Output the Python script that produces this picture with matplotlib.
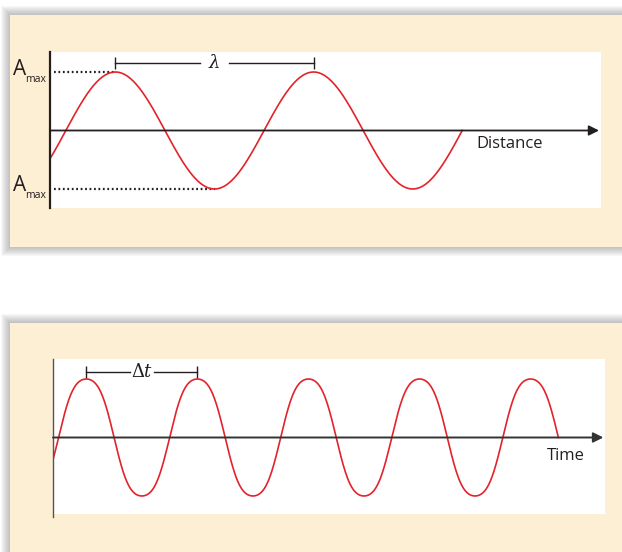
import numpy as np
import matplotlib
matplotlib.use("Agg")
import matplotlib.pyplot as plt
from matplotlib.patches import Rectangle

plt.rcParams['font.family'] = ['Open Sans', 'DejaVu Sans']
plt.rcParams['mathtext.fontset'] = 'dejavuserif'

# --- data -------------------------------------------------------------
# top wave: x measured in wavelengths (lambda)
dist_xlim = (0.0, 2.78)
dist_ylim = (-1.325, 1.342)
dist_first_peak = 0.33
dist_end = 2.08
dist_amp = 1.0
dist_arrow_tip = 2.77

# bottom wave: x measured in periods (delta t)
time_xlim = (0.0, 4.97)
time_ylim = (-1.308, 1.342)
time_first_peak = 0.30
time_end = 4.55
time_amp = 1.0
time_third_harmonic = 0.06   # small 3rd harmonic: rounder tops, steeper sides
time_arrow_tip = 4.955

RED = '#e2232b'
BEIGE = '#fdefd3'
INK = '#231f20'

W, H = 622, 552
fig = plt.figure(figsize=(W / 100, H / 100), dpi=100)
fig.patch.set_facecolor('white')


def px_box(x0, y0, x1, y1):
    return [x0 / W, 1 - y1 / H, (x1 - x0) / W, (y1 - y0) / H]


def panel(x0, y0, x1, y1):
    # soft grey shadow, then the beige card
    for k in range(9, 0, -1):
        b = px_box(x0 - k, y0 - k, x1 + k, y1 + k)
        fig.add_artist(Rectangle((b[0], b[1]), b[2], b[3], transform=fig.transFigure,
                                 facecolor='#6b6b70', alpha=0.05, lw=0, zorder=-3))
    b = px_box(x0, y0, x1, y1)
    fig.add_artist(Rectangle((b[0], b[1]), b[2], b[3], transform=fig.transFigure,
                             facecolor=BEIGE, lw=0, zorder=-2))


panel(10, 15, 640, 247)
panel(10, 323, 640, 570)

# --- top: wave in space ----------------------------------------------
ax1 = fig.add_axes(px_box(50, 52, 601, 208))
ax1.set_xlim(*dist_xlim)
ax1.set_ylim(*dist_ylim)
ax1.axis('off')
ax1.add_patch(Rectangle((0, 0), 1, 1, transform=ax1.transAxes, facecolor='white', lw=0, zorder=0))

x = np.linspace(0, dist_end, 600)
ax1.plot(x, dist_amp * np.cos(2 * np.pi * (x - dist_first_peak)), color=RED, lw=1.2, zorder=3)
ax1.plot([0, 0], dist_ylim, color=INK, lw=1.6, zorder=4, clip_on=False)
ax1.annotate('', xy=(dist_arrow_tip, 0), xytext=(0, 0),
             arrowprops=dict(arrowstyle='-|>', color=INK, lw=1.3, mutation_scale=15,
                             shrinkA=0, shrinkB=0), zorder=4)

trough = dist_first_peak + 0.5
ax1.plot([0.02, dist_first_peak], [dist_amp, dist_amp], color=INK, lw=1.6,
         ls=(0, (0.8, 1.2)), zorder=2)
ax1.plot([0.02, trough], [-dist_amp, -dist_amp], color=INK, lw=1.6,
         ls=(0, (0.8, 1.2)), zorder=2)
for yv in (dist_amp, -dist_amp):
    ax1.annotate('A', xy=(0, yv), xytext=(-37, 3), textcoords='offset pixels',
                 fontsize=15, color=INK, ha='left', va='center', annotation_clip=False)
    ax1.annotate('max', xy=(0, yv), xytext=(-25, -7), textcoords='offset pixels',
                 fontsize=7.5, color=INK, ha='left', va='center', annotation_clip=False)

yb = 1.154
lam_mid = dist_first_peak + 0.5
ax1.plot([dist_first_peak, lam_mid - 0.075], [yb, yb], color=INK, lw=1.0)
ax1.plot([lam_mid + 0.075, dist_first_peak + 1], [yb, yb], color=INK, lw=1.0)
ax1.plot([dist_first_peak, dist_first_peak + 1], [yb, yb], ls='none', marker='|',
         ms=8, mew=1.0, color=INK)
ax1.text(lam_mid, yb, r'$\lambda$', fontsize=13, color=INK, ha='center', va='center')
ax1.text(2.15, -0.23, 'Distance', fontsize=12, color=INK, ha='left', va='center')

# --- bottom: wave in time --------------------------------------------
ax2 = fig.add_axes(px_box(53, 359, 605, 514))
ax2.set_xlim(*time_xlim)
ax2.set_ylim(*time_ylim)
ax2.axis('off')
ax2.add_patch(Rectangle((0, 0), 1, 1, transform=ax2.transAxes, facecolor='white', lw=0, zorder=0))

t = np.linspace(0, time_end, 1500)
th = 2 * np.pi * (t - time_first_peak)
a3 = time_third_harmonic
wave = (np.cos(th) - a3 * np.cos(3 * th)) / (1 - a3)
ax2.plot(t, time_amp * wave, color=RED, lw=1.2, zorder=3)
ax2.plot([0, 0], [time_ylim[0] - 0.05, time_ylim[1]], color='#555555', lw=1.0,
         zorder=4, clip_on=False)
ax2.annotate('', xy=(time_arrow_tip, 0), xytext=(0, 0),
             arrowprops=dict(arrowstyle='-|>', color='#333333', lw=1.4, mutation_scale=15,
                             shrinkA=0, shrinkB=0), zorder=4)

yb2 = 1.12
dt_mid = time_first_peak + 0.5
ax2.plot([time_first_peak, dt_mid - 0.11], [yb2, yb2], color=INK, lw=1.0)
ax2.plot([dt_mid + 0.11, time_first_peak + 1], [yb2, yb2], color=INK, lw=1.0)
ax2.plot([time_first_peak, time_first_peak + 1], [yb2, yb2], ls='none', marker='|',
         ms=8, mew=1.0, color=INK)
ax2.text(dt_mid, yb2, r'$\Delta t$', fontsize=13, color=INK, ha='center', va='center')
ax2.text(4.45, -0.32, 'Time', fontsize=12, color=INK, ha='left', va='center')

fig.savefig('out.png', dpi=100, facecolor='white')
